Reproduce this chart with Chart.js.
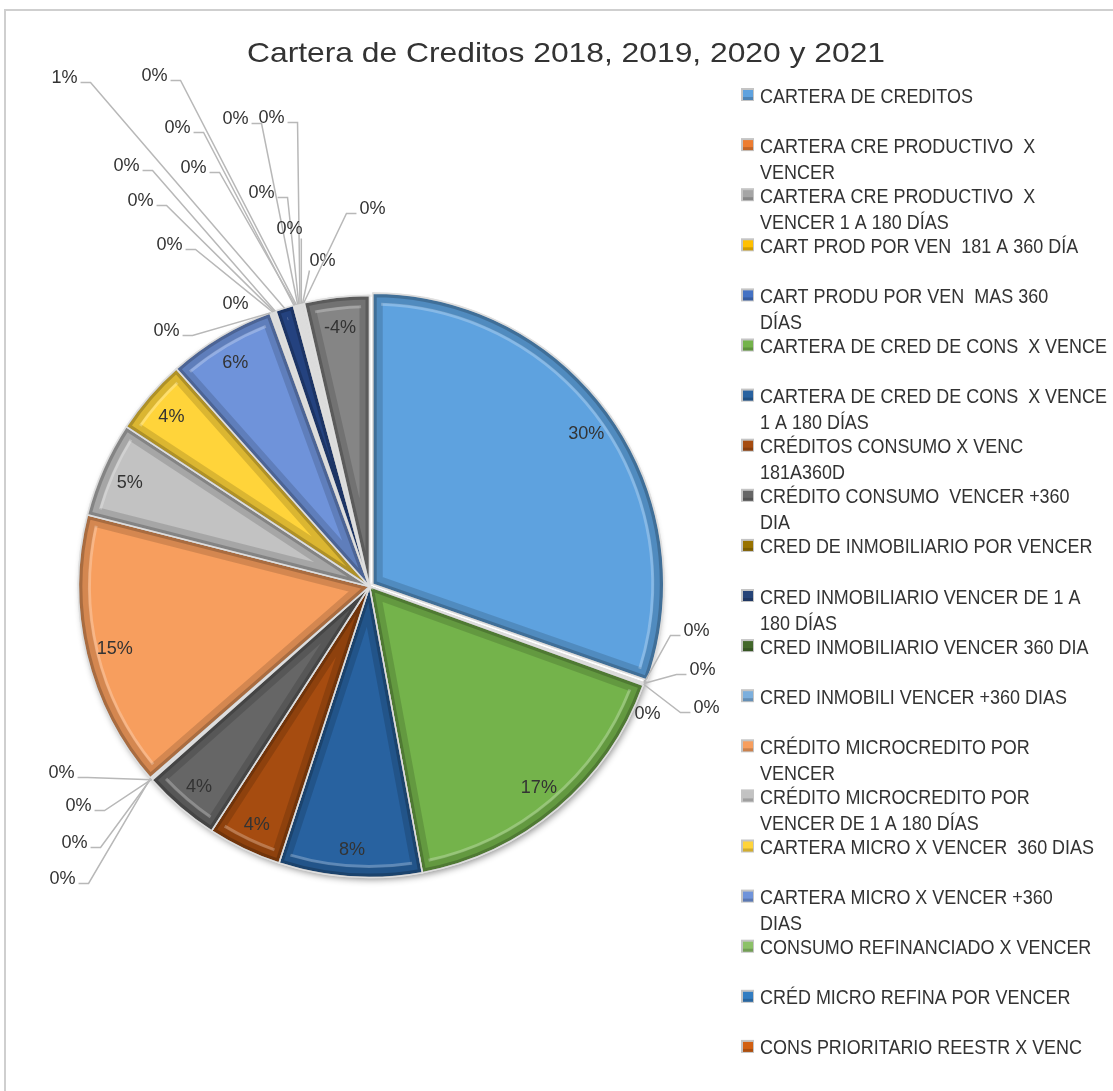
<!DOCTYPE html>
<html>
<head>
<meta charset="utf-8">
<script src="https://cdn.jsdelivr.net/npm/chart.js@4.4.1/dist/chart.umd.min.js"></script>
<style>
  html, body { margin: 0; padding: 0; background: #fff; }
</style>
</head>
<body>
<canvas id="pie" width="1113" height="1091"></canvas>
<script>
(function () {
  var TITLE = 'Cartera de Creditos 2018, 2019, 2020 y 2021';

  // leyenda del original: solo se ven los 20 primeros rubros
  var categories = [
    ['CARTERA DE CREDITOS'],
    ['CARTERA CRE PRODUCTIVO  X', 'VENCER'],
    ['CARTERA CRE PRODUCTIVO  X', 'VENCER 1 A 180 DÍAS'],
    ['CART PROD POR VEN  181 A 360 DÍA'],
    ['CART PRODU POR VEN  MAS 360', 'DÍAS'],
    ['CARTERA DE CRED DE CONS  X VENCE'],
    ['CARTERA DE CRED DE CONS  X VENCE', '1 A 180 DÍAS'],
    ['CRÉDITOS CONSUMO X VENC', '181A360D'],
    ['CRÉDITO CONSUMO  VENCER +360', 'DIA'],
    ['CRED DE INMOBILIARIO POR VENCER'],
    ['CRED INMOBILIARIO VENCER DE 1 A', '180 DÍAS'],
    ['CRED INMOBILIARIO VENCER 360 DIA'],
    ['CRED INMOBILI VENCER +360 DIAS'],
    ['CRÉDITO MICROCREDITO POR', 'VENCER'],
    ['CRÉDITO MICROCREDITO POR', 'VENCER DE 1 A 180 DÍAS'],
    ['CARTERA MICRO X VENCER  360 DIAS'],
    ['CARTERA MICRO X VENCER +360', 'DIAS'],
    ['CONSUMO REFINANCIADO X VENCER'],
    ['CRÉD MICRO REFINA POR VENCER'],
    ['CONS PRIORITARIO REESTR X VENC']
  ];

  // participacion estimada de cada rubro (33 porciones en el pastel)
  var shares = [
    30.4, 0.04, 0.03, 0.05, 0.04,
    16.6, 7.95, 4.1, 4.3,
    0.04, 0.03, 0.05, 0.04,
    15.4, 5.3, 4.2, 6.0,
    0.07, 0.06, 0.08, 0.07, 0.07,
    1.0,
    0.07, 0.06, 0.08, 0.07, 0.06, 0.07, 0.08, 0.06, 0.07,
    -3.6
  ];

  var colors = [
    '#5EA2DF', '#ED7D31', '#A5A5A5', '#FFC000', '#4472C4',
    '#74B34B', '#2862A0', '#A64C10', '#666666', '#997300',
    '#264478', '#43682B', '#7CAFDD', '#F79E5E', '#C2C2C2',
    '#FFD43A', '#6F93DA', '#8CC168', '#327DC2', '#D26012',
    '#7C7C7C', '#BF9000', '#2B4D94', '#548235', '#9DC3E6',
    '#F4B183', '#C9C9C9', '#FFD966', '#8FAADC', '#A9D18E',
    '#1F4E79', '#843C0C', '#858585'
  ];

  // etiquetas fuera del pastel: [indice, dx, dy] respecto al centro
  var outsideLabels = [
    [1, 327, 43], [2, 333, 82], [3, 337, 120], [4, 278, 126],
    [9, -308, 185], [10, -291, 218], [11, -295, 255], [12, -307, 291],
    [17, -203, -257], [18, -134, -284], [19, -200, -343], [20, -229, -387],
    [21, -243, -422], [22, -305, -510], [23, -192, -460], [24, -176, -420],
    [25, -215, -512], [26, -134, -469], [27, -108, -395], [28, -98, -470],
    [29, -80, -359], [30, -47, -327], [31, 3, -379]
  ];

  var FONT = '"Liberation Sans", Arial, sans-serif';
  var TXT = '#333333';

  function txt(ctx, s, x, y, size, sx, align) {
    ctx.save();
    ctx.font = size + 'px ' + FONT;
    ctx.fillStyle = TXT;
    ctx.textAlign = align || 'center';
    ctx.textBaseline = 'alphabetic';
    ctx.translate(x, y + size * 0.358);
    ctx.scale(sx, 1);
    ctx.fillText(s, 0, 0);
    ctx.restore();
  }
  function textW(ctx, s, size) {
    ctx.save();
    ctx.font = size + 'px ' + FONT;
    var w = ctx.measureText(s).width;
    ctx.restore();
    return w;
  }

  function pctLabel(v, total) {
    return Math.round(v / total * 100) + '%';
  }

  function arcGeo(el) {
    var p = el.getProps(['x', 'y', 'startAngle', 'endAngle', 'outerRadius'], true);
    var off = (el.options.offset || 0) / 4;
    var mid = (p.startAngle + p.endAngle) / 2;
    return {
      cx: p.x + Math.cos(mid) * off, cy: p.y + Math.sin(mid) * off,
      r: p.outerRadius, sa: p.startAngle, ea: p.endAngle, mid: mid
    };
  }

  var excelPie = {
    id: 'excelPie',
    beforeDraw: function (chart) {
      var ctx = chart.ctx;
      ctx.save();
      ctx.fillStyle = '#fff';
      ctx.fillRect(0, 0, chart.width, chart.height);
      ctx.strokeStyle = '#cfcfcf';
      ctx.lineWidth = 2;
      ctx.beginPath();
      ctx.moveTo(5, chart.height);
      ctx.lineTo(5, 10);
      ctx.lineTo(chart.width, 10);
      ctx.stroke();
      ctx.restore();
    },
    beforeDatasetsDraw: function (chart) {
      // sombra exterior del pastel
      var g = arcGeo(chart.getDatasetMeta(0).data[5]);
      var ctx = chart.ctx;
      ctx.save();
      ctx.shadowColor = 'rgba(0,0,0,0.45)';
      ctx.shadowBlur = 7;
      ctx.shadowOffsetX = 2;
      ctx.shadowOffsetY = 3;
      ctx.fillStyle = '#fff';
      ctx.beginPath();
      ctx.arc(g.cx, g.cy, g.r - 1, 0, Math.PI * 2);
      ctx.fill();
      ctx.restore();
    },
    afterDatasetsDraw: function (chart) {
      var ctx = chart.ctx;
      var meta = chart.getDatasetMeta(0);
      var total = meta.total;

      // efecto bisel
      meta.data.forEach(function (el) {
        var g = arcGeo(el);
        if (g.ea - g.sa < 0.02) return;
        ctx.save();
        ctx.beginPath();
        ctx.moveTo(g.cx, g.cy);
        ctx.arc(g.cx, g.cy, g.r, g.sa, g.ea);
        ctx.closePath();
        ctx.clip();
        ctx.lineJoin = 'round';
        ctx.strokeStyle = 'rgba(0,0,0,0.14)';
        ctx.lineWidth = 20;
        ctx.stroke();
        ctx.strokeStyle = 'rgba(0,0,0,0.2)';
        ctx.lineWidth = 8;
        ctx.stroke();
        ctx.beginPath();
        ctx.arc(g.cx, g.cy, g.r - 11, g.sa + 0.03, g.ea - 0.03);
        ctx.strokeStyle = 'rgba(255,255,255,0.25)';
        ctx.lineWidth = 3;
        ctx.stroke();
        ctx.restore();
        ctx.save();
        ctx.beginPath();
        ctx.moveTo(g.cx, g.cy);
        ctx.arc(g.cx, g.cy, g.r, g.sa, g.ea);
        ctx.closePath();
        ctx.strokeStyle = 'rgba(225,225,225,0.9)';
        ctx.lineWidth = 1.5;
        ctx.stroke();
        ctx.restore();
      });

      var outside = {};
      outsideLabels.forEach(function (o) { outside[o[0]] = o; });
      var c = arcGeo(meta.data[5]);

      meta.data.forEach(function (el, i) {
        var g = arcGeo(el);
        var s = pctLabel(shares[i], total);
        if (outside[i]) {
          var L = { x: c.cx + outside[i][1], y: c.cy + outside[i][2] };
          var P = { x: g.cx + Math.cos(g.mid) * g.r, y: g.cy + Math.sin(g.mid) * g.r };
          var half = textW(ctx, s, 19) * 0.95 / 2;
          if (Math.hypot(P.x - L.x, P.y - L.y) > 40) {
            ctx.save();
            ctx.strokeStyle = '#b8b8b8';
            ctx.lineWidth = 1.5;
            ctx.beginPath();
            var sx, sy = L.y + 6;
            if (P.x > L.x + half + 14) {
              sx = L.x + half + 3;
              ctx.moveTo(sx, sy); ctx.lineTo(sx + 10, sy);
            } else if (P.x < L.x - half - 14) {
              sx = L.x - half - 3;
              ctx.moveTo(sx, sy); ctx.lineTo(sx - 10, sy);
            } else {
              sx = Math.max(L.x - half, Math.min(L.x + half + 8, P.x));
              ctx.moveTo(sx, P.y > L.y ? L.y + 11 : L.y - 11);
            }
            ctx.lineTo(P.x, P.y);
            ctx.stroke();
            ctx.restore();
          }
          txt(ctx, s, L.x, L.y, 19, 0.95, 'center');
        } else {
          var rr = g.r * 0.9;
          txt(ctx, s, g.cx + Math.cos(g.mid) * rr, g.cy + Math.sin(g.mid) * rr, 19, 0.95, 'center');
        }
      });
    },
    afterDraw: function (chart) {
      var ctx = chart.ctx;
      // titulo
      var tw = textW(ctx, TITLE, 28);
      txt(ctx, TITLE, 566, 52, 28, 638 / tw, 'center');

      // leyenda
      var lsx = 347 / textW(ctx, 'CARTERA DE CRED DE CONS  X VENCE', 21);
      categories.forEach(function (lines, i) {
        var y = 95 + i * 50.1;
        ctx.save();
        ctx.fillStyle = '#c4c4c4';
        ctx.fillRect(741, y - 7, 13, 13);
        ctx.fillStyle = colors[i];
        ctx.fillRect(743, y - 5, 10, 10);
        ctx.fillStyle = 'rgba(0,0,0,0.18)';
        ctx.fillRect(743, y + 2, 10, 3);
        ctx.restore();
        lines.forEach(function (ln, k) {
          txt(ctx, ln, 760, y + k * 26, 21, lsx, 'left');
        });
      });
    }
  };

  new Chart(document.getElementById('pie'), {
    type: 'pie',
    data: {
      labels: categories.map(function (l) { return l.join(' '); }),
      datasets: [{
        data: shares,
        backgroundColor: colors,
        borderColor: '#dcdcdc',
        borderWidth: 1.5,
        offset: shares.map(function (v, i) { return i === 0 ? 16 : 0; })
      }]
    },
    options: {
      responsive: false,
      animation: false,
      devicePixelRatio: 1,
      radius: 291,
      layout: { padding: { left: 75, top: 292, right: 449, bottom: 210 } },
      plugins: {
        legend: { display: false },
        title: { display: false },
        tooltip: { enabled: false }
      }
    },
    plugins: [excelPie]
  });
})();
</script>
</body>
</html>
